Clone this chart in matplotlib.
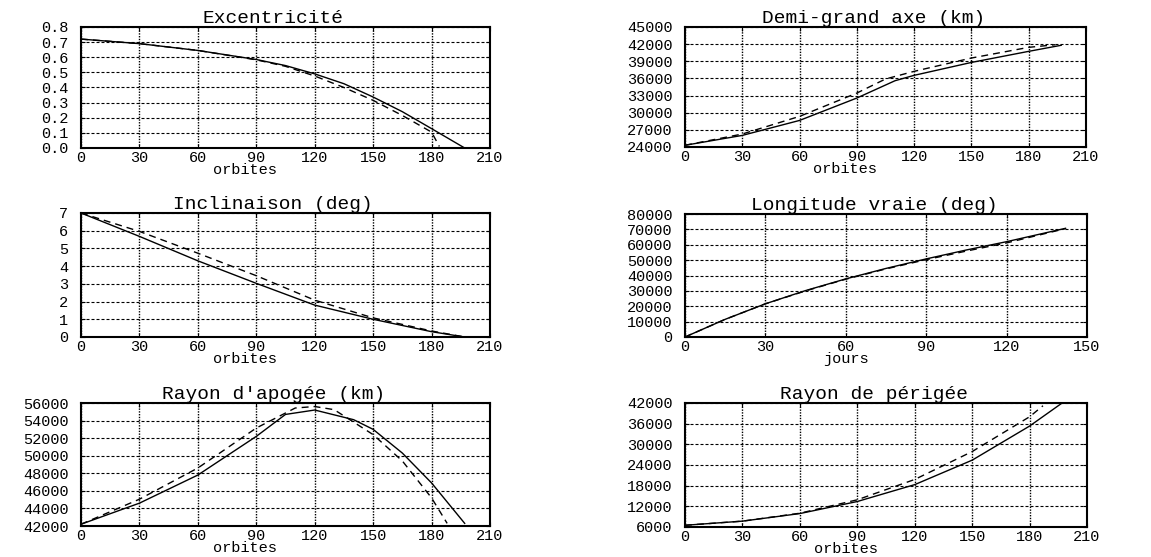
import matplotlib
matplotlib.use("Agg")
import matplotlib.pyplot as plt
import numpy as np

plt.rcParams['font.family'] = ['Liberation Mono', 'DejaVu Sans Mono']

# excentricite
exc_x = [0, 30, 60, 90, 105, 120, 135, 150, 165, 180, 197]
exc_s = [0.72, 0.69, 0.645, 0.585, 0.545, 0.49, 0.425, 0.337, 0.24, 0.128, 0.0]
exc_dx = [0, 30, 60, 90, 105, 120, 135, 150, 165, 180, 184]
exc_d = [0.72, 0.69, 0.645, 0.583, 0.54, 0.476, 0.40, 0.315, 0.215, 0.105, 0.01]

# demi-grand axe
dga_x = [0, 30, 60, 90, 110, 120, 150, 180, 197]
dga_s = [24300, 26030, 28650, 32570, 35600, 36540, 38800, 40740, 41800]
dga_dx = [0, 30, 60, 90, 105, 120, 150, 180, 194]
dga_d = [24300, 26270, 29360, 33440, 35900, 37240, 39570, 41440, 41900]

# inclinaison
inc_x = [0, 30, 60, 90, 120, 150, 180, 197]
inc_s = [7.0, 5.68, 4.3, 3.03, 1.8, 1.0, 0.3, 0.0]
inc_dx = [0, 30, 60, 90, 120, 150, 180, 197]
inc_d = [7.0, 5.96, 4.73, 3.46, 2.08, 1.08, 0.34, 0.0]

# longitude vraie
lon_x = [0, 15, 30, 45, 60, 75, 90, 105, 120, 142]
lon_s = [0, 11500, 21600, 30200, 37800, 44600, 50800, 56600, 62000, 70700]
lon_d = [0, 11500, 21600, 30000, 37600, 44300, 50300, 55900, 61200, 70500]

# rayon d'apogee
apo_x = [0, 30, 60, 90, 105, 120, 140, 150, 165, 180, 197]
apo_s = [42200, 44600, 47800, 52200, 54700, 55200, 54100, 53000, 50300, 46900, 42300]
apo_dx = [0, 30, 60, 90, 110, 120, 130, 150, 165, 180, 188]
apo_d = [42200, 45050, 48600, 53150, 55430, 55600, 55240, 52400, 49400, 45200, 42300]

# rayon de perigee
per_x = [0, 30, 60, 90, 120, 150, 180, 197]
per_s = [6500, 7700, 9900, 13400, 18300, 25400, 35300, 42000]
per_dx = [0, 30, 60, 90, 120, 150, 180, 187]
per_d = [6500, 7700, 10000, 13900, 19800, 27900, 38000, 41200]

W, H = 1151, 557
fig = plt.figure(figsize=(W / 100, H / 100), dpi=100)


def box(l, t, r, b):
    return [l / W, 1 - b / H, (r - l) / W, (b - t) / H]


def panel(rect, title, xs, ys, xd, yd, xt, yt, xlabel, yfmt="%d"):
    ax = fig.add_axes(rect)
    ax.plot(xs, ys, color='black', lw=1.0)
    ax.plot(xd, yd, color='black', lw=1.0, ls=(0, (5, 3.6)))
    ax.set_xlim(xt[0], xt[-1])
    ax.set_ylim(yt[0], yt[-1])
    ax.set_xticks(xt)
    ax.set_yticks(yt)
    ax.set_yticklabels([yfmt % v for v in yt])
    # vertical grid dotted, horizontal grid dashed
    ax.xaxis.grid(True, color='black', lw=1.0, ls=(0, (1, 1)))
    ax.yaxis.grid(True, color='black', lw=0.8, ls=(0, (2.7, 1.8)))
    for s in ax.spines.values():
        s.set_linewidth(1.5)
    ax.tick_params(direction='in', length=3, top=True, right=True,
                   labelsize=11)
    ax.tick_params(axis='y', pad=9)
    ax.tick_params(axis='x', pad=2)
    ax.set_title(title, fontsize=14, pad=3, x=0.47)
    ax.set_xlabel(xlabel, fontsize=11, labelpad=-1, x=0.4)
    return ax


orb = [0, 30, 60, 90, 120, 150, 180, 210]

panel(box(81, 27, 490, 148), "Excentricité", exc_x, exc_s, exc_dx, exc_d,
      orb, [0.0, 0.1, 0.2, 0.3, 0.4, 0.5, 0.6, 0.7, 0.8], "orbites", "%.1f")
panel(box(685, 27, 1086, 147), "Demi-grand axe (km)", dga_x, dga_s, dga_dx, dga_d,
      orb, [24000, 27000, 30000, 33000, 36000, 39000, 42000, 45000], "orbites")
panel(box(81, 213, 490, 337), "Inclinaison (deg)", inc_x, inc_s, inc_dx, inc_d,
      orb, [0, 1, 2, 3, 4, 5, 6, 7], "orbites")
panel(box(685, 214, 1087, 337), "Longitude vraie (deg)", lon_x, lon_s, lon_x, lon_d,
      [0, 30, 60, 90, 120, 150],
      [0, 10000, 20000, 30000, 40000, 50000, 60000, 70000, 80000], "jours")
panel(box(81, 403, 490, 526), "Rayon d'apogée (km)", apo_x, apo_s, apo_dx, apo_d,
      orb, [42000, 44000, 46000, 48000, 50000, 52000, 54000, 56000], "orbites")
panel(box(685, 403, 1087, 527), "Rayon de périgée", per_x, per_s, per_dx, per_d,
      orb, [6000, 12000, 18000, 24000, 30000, 36000, 42000], "orbites")

fig.savefig("out.png", dpi=100)
